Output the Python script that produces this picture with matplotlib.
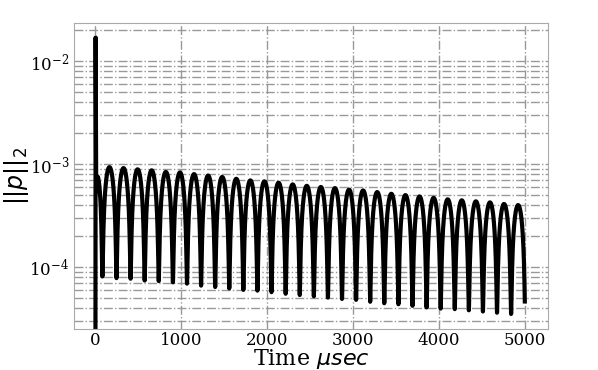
import numpy as np
import matplotlib
matplotlib.use("Agg")
import matplotlib.pyplot as plt

# Anfang: Spitze bei t=0 (Zeit in usec, Wert ||p||_2)
start_t = [0, 2, 9, 22]
start_p = [1.0e-5, 1.7e-2, 5.4e-4, 7.6e-4]

# Minima (Zeit, Wert) und Maxima danach
trough_t = [81, 245, 409, 573, 737, 902, 1066, 1230, 1394, 1558,
            1722, 1886, 2050, 2215, 2379, 2543, 2707, 2871, 3035, 3199,
            3363, 3528, 3692, 3856, 4020, 4184, 4348, 4512, 4676, 4840, 5004]
trough_p = [8.1e-5, 7.8e-5, 7.7e-5, 7.4e-5, 7.3e-5, 7.1e-5, 6.9e-5, 6.6e-5, 6.4e-5, 6.2e-5,
            6.0e-5, 5.9e-5, 5.7e-5, 5.5e-5, 5.35e-5, 5.2e-5, 5.05e-5, 4.9e-5, 4.8e-5, 4.6e-5,
            4.45e-5, 4.35e-5, 4.2e-5, 4.05e-5, 3.95e-5, 3.9e-5, 3.8e-5, 3.7e-5, 3.6e-5, 3.5e-5, 3.4e-5]
peak_p = [9.35e-4, 9.15e-4, 8.9e-4, 8.7e-4, 8.4e-4, 8.3e-4, 8.0e-4, 7.75e-4, 7.5e-4, 7.2e-4,
          6.95e-4, 6.8e-4, 6.6e-4, 6.35e-4, 6.15e-4, 6.0e-4, 5.85e-4, 5.65e-4, 5.55e-4, 5.35e-4,
          5.15e-4, 5.0e-4, 4.85e-4, 4.7e-4, 4.55e-4, 4.45e-4, 4.35e-4, 4.25e-4, 4.1e-4, 4.0e-4]
t_end = 5000

# Kurve zusammensetzen: Bogen zwischen zwei Minima
t_all = list(start_t)
p_all = list(start_p)
# erster Teilbogen vom Hoecker bis zum ersten Minimum
s = np.linspace(0, 1, 40)[1:]
t_all += list(start_t[-1] + s * (trough_t[0] - start_t[-1]))
p_all += list(np.sqrt(start_p[-1] ** 2 * np.cos(np.pi / 2 * s) ** 2 + (trough_p[0] * s) ** 2))
for k in range(len(peak_p)):
    s = np.linspace(0, 1, 200)[1:]
    tt = trough_t[k] + s * (trough_t[k + 1] - trough_t[k])
    T = trough_p[k] * (1 - s) + trough_p[k + 1] * s
    pp = np.sqrt((peak_p[k] ** 2 - T ** 2) * np.sin(np.pi * s) ** 2 + T ** 2)
    keep = tt <= t_end
    t_all += list(tt[keep])
    p_all += list(pp[keep])

plt.rcParams['font.family'] = 'DejaVu Serif'
plt.rcParams['mathtext.fontset'] = 'dejavusans'

fig = plt.figure(figsize=(5.98, 3.70), dpi=100)
ax = fig.add_axes([0.1237, 0.1108, 0.7927, 0.827])
ax.plot(t_all, p_all, color='black', linewidth=3)
ax.set_yscale('log')
ax.set_xlim(-250, 5270)
ax.set_ylim(2.5e-5, 2.35e-2)
ax.set_xticks([0, 1000, 2000, 3000, 4000, 5000])
ax.grid(True, which='major', axis='x', color='#999999', linestyle='-.', linewidth=1)
ax.grid(True, which='both', axis='y', color='#999999', linestyle='-.', linewidth=1)
ax.tick_params(which='both', length=0, labelsize=12)
ax.tick_params(axis='x', pad=2)
for sp in ax.spines.values():
    sp.set_color('#aaaaaa')
ax.set_xlabel(r"Time $\mu sec$", fontsize=16, labelpad=-1)
ax.set_ylabel(r"$||p||_2$", fontsize=17, labelpad=-1)
fig.savefig("out.png", dpi=100)
